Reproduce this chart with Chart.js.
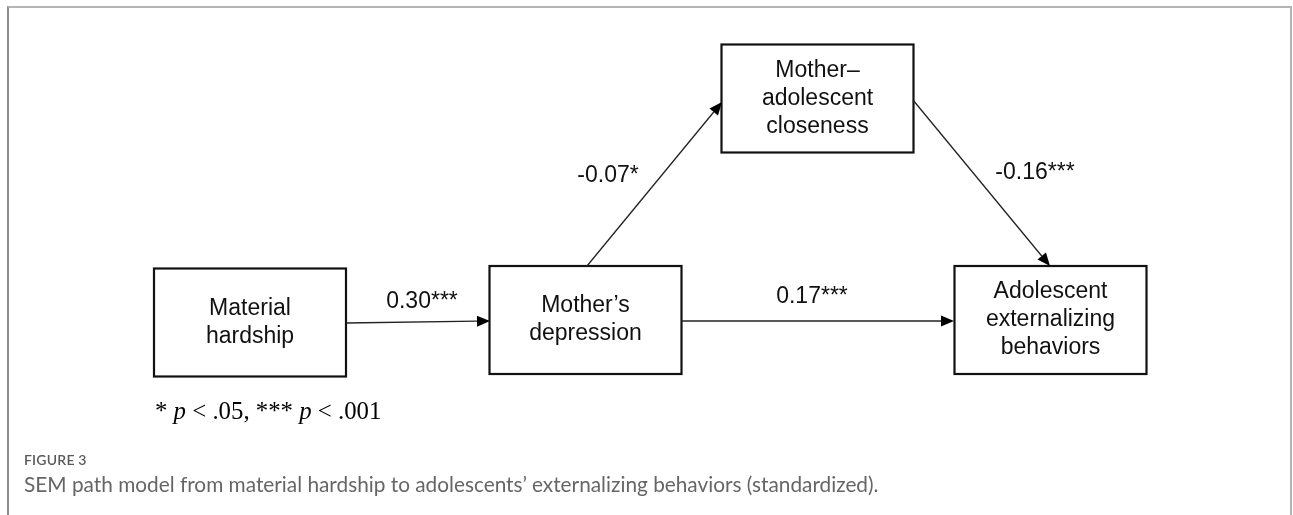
<!DOCTYPE html>
<html>
<head>
<meta charset="utf-8">
<script src="https://cdn.jsdelivr.net/npm/chart.js@4/dist/chart.umd.min.js"></script>
<style>
  html, body { margin: 0; padding: 0; background: #fff; }
  #wrap { position: relative; width: 1293px; height: 515px; overflow: hidden; background: #fff; }
  #frame { position: absolute; left: 7px; top: 6px; width: 1281px; height: 520px;
           border-top: 2px solid #b4b4b4; border-left: 2px solid #8c8c8c; border-right: 2px solid #b4b4b4; }
  canvas { position: absolute; left: 0; top: 0; }
  #legend { position: absolute; left: 155px; top: 397px; font-family: "Liberation Serif", "Times New Roman", serif;
            font-size: 24.8px; color: #000; white-space: nowrap; }
  #figlabel { position: absolute; left: 24px; top: 451px; font-family: Lato, "Open Sans", sans-serif; font-size: 14px;
              font-weight: 600; color: #5a5a5a; letter-spacing: 0.2px; }
  #caption { position: absolute; left: 24px; top: 471px; font-family: Lato, "Open Sans", sans-serif; font-size: 20.8px;
             color: #666; white-space: nowrap; }
</style>
</head>
<body>
<div id="wrap">
  <div id="frame"></div>
  <canvas id="c" width="1293" height="515"></canvas>
  <div id="legend">* <i>p</i> &lt; .05, *** <i>p</i> &lt; .001</div>
  <div id="figlabel">FIGURE 3</div>
  <div id="caption">SEM path model from material hardship to adolescents’ externalizing behaviors (standardized).</div>
</div>
<script>
// ---- Data ----
const nodeLabels = [
  ["Material", "hardship"],
  ["Mother’s", "depression"],
  ["Mother–", "adolescent", "closeness"],
  ["Adolescent", "externalizing", "behaviors"]
];
const pathFrom = [0, 1, 2, 1];
const pathTo   = [1, 2, 3, 3];
const pathCoefficients = [0.30, -0.07, -0.16, 0.17];
const pathSignificance = ["***", "*", "***", "***"];

// ---- Layout (diagram units) ----
const nodeCenterX = [250, 585.5, 817.5, 1050.5];
const nodeCenterY = [322.5, 320, 98.5, 320];
const nodeWidth = 192, nodeHeight = 108;
// arrow anchor points (start/end) in diagram units
const pathStart = [[346, 323], [587, 266], [913, 100], [681, 321]];
const pathEnd   = [[490, 321], [722, 102], [1050, 266], [954, 321]];
const labelPos  = [[422, 302], [608, 176], [1035, 173], [812, 297]];

const fmt = v => v.toFixed(2);

const diagramPlugin = {
  id: 'diagram',
  afterDatasetsDraw(chart) {
    const ctx = chart.ctx, xs = chart.scales.x, ys = chart.scales.y;
    const px = v => xs.getPixelForValue(v), py = v => ys.getPixelForValue(v);
    ctx.save();
    // boxes
    nodeLabels.forEach((lines, i) => {
      const l = px(nodeCenterX[i] - nodeWidth / 2), r = px(nodeCenterX[i] + nodeWidth / 2);
      const t = py(nodeCenterY[i] - nodeHeight / 2), b = py(nodeCenterY[i] + nodeHeight / 2);
      ctx.fillStyle = '#fff';
      ctx.fillRect(l, t, r - l, b - t);
      ctx.lineWidth = 2.2;
      ctx.strokeStyle = '#111';
      ctx.strokeRect(l, t, r - l, b - t);
      ctx.fillStyle = '#111';
      ctx.font = '23px "Liberation Sans", Arial, sans-serif';
      ctx.textAlign = 'center';
      ctx.textBaseline = 'middle';
      const lh = 28;
      const cy = py(nodeCenterY[i]);
      lines.forEach((s, k) => {
        ctx.fillText(s, px(nodeCenterX[i]), cy + (k - (lines.length - 1) / 2) * lh);
      });
    });
    // arrows
    pathFrom.forEach((f, i) => {
      const x1 = px(pathStart[i][0]), y1 = py(pathStart[i][1]);
      const x2 = px(pathEnd[i][0]), y2 = py(pathEnd[i][1]);
      const ang = Math.atan2(y2 - y1, x2 - x1);
      const hl = 13, hw = 5.5;
      const bx = x2 - hl * Math.cos(ang), by = y2 - hl * Math.sin(ang);
      ctx.strokeStyle = '#222';
      ctx.lineWidth = 1.3;
      ctx.beginPath();
      ctx.moveTo(x1, y1);
      ctx.lineTo(bx, by);
      ctx.stroke();
      ctx.fillStyle = '#000';
      ctx.beginPath();
      ctx.moveTo(x2, y2);
      ctx.lineTo(bx + hw * Math.sin(ang), by - hw * Math.cos(ang));
      ctx.lineTo(bx - hw * Math.sin(ang), by + hw * Math.cos(ang));
      ctx.closePath();
      ctx.fill();
      // label
      ctx.fillStyle = '#111';
      ctx.font = '23px "Liberation Sans", Arial, sans-serif';
      ctx.textAlign = 'center';
      ctx.textBaseline = 'middle';
      ctx.fillText(fmt(pathCoefficients[i]) + pathSignificance[i], px(labelPos[i][0]), py(labelPos[i][1]));
    });
    ctx.restore();
  }
};

new Chart(document.getElementById('c'), {
  type: 'scatter',
  data: {
    datasets: [{
      label: 'Nodes',
      data: nodeCenterX.map((x, i) => ({ x, y: nodeCenterY[i] })),
      pointRadius: 0,
      pointHoverRadius: 0
    }]
  },
  options: {
    responsive: false,
    animation: false,
    layout: { padding: 0 },
    plugins: { legend: { display: false }, tooltip: { enabled: false } },
    events: [],
    scales: {
      x: { type: 'linear', min: 0, max: 1293, display: false },
      y: { type: 'linear', min: 0, max: 515, reverse: true, display: false }
    }
  },
  plugins: [diagramPlugin]
});
</script>
</body>
</html>
